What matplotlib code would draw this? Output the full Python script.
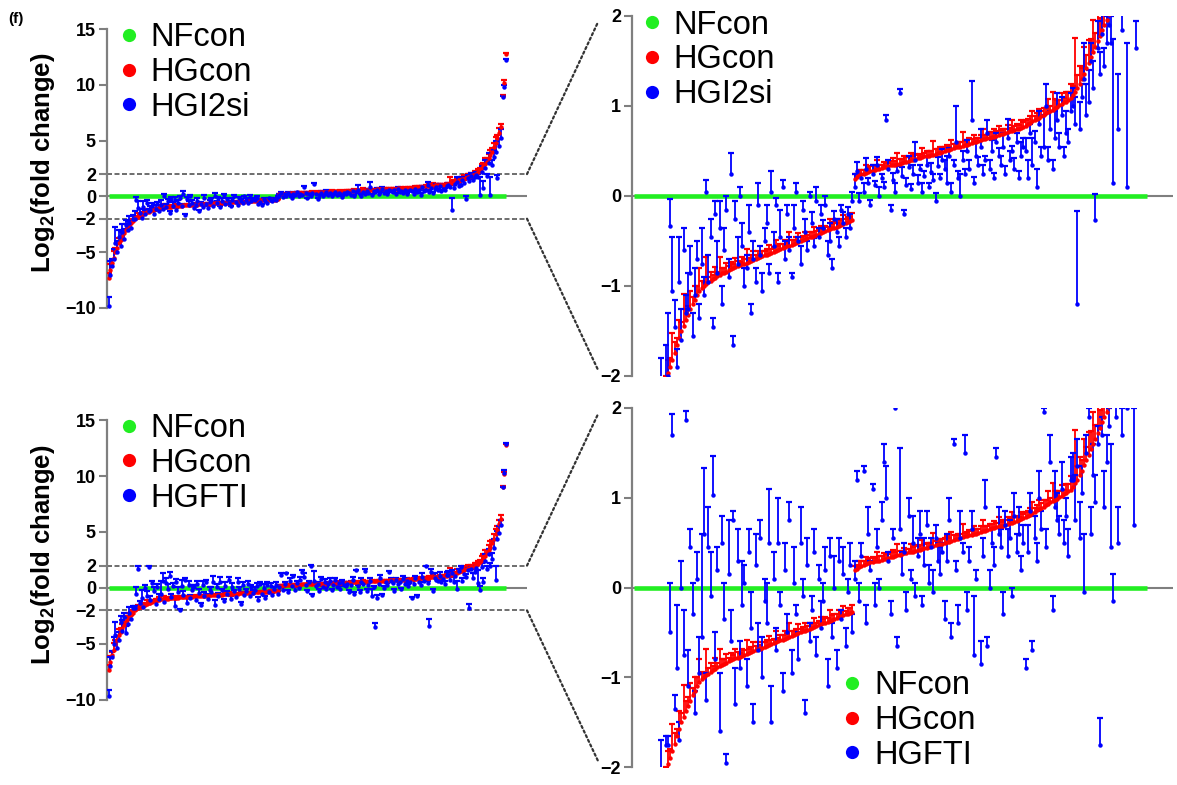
import numpy as np
import matplotlib.pyplot as plt
from matplotlib.lines import Line2D
from matplotlib.patches import ConnectionPatch
from matplotlib import transforms

plt.rcParams['font.family'] = ['Liberation Sans', 'DejaVu Sans']
plt.rcParams['mathtext.fontset'] = 'custom'
plt.rcParams['mathtext.rm'] = 'Liberation Sans:bold'
plt.rcParams['mathtext.default'] = 'rm'

# genes sorted by HGcon log2 fold change
hgcon = [-7.3, -6.6, -6.0, -5.5, -5.0, -4.6, -4.2, -3.9, -3.6, -3.3, -3.0, -2.8, -2.6, -2.4, -2.2,
         -1.97, -1.9, -1.82, -1.74, -1.66, -1.58, -1.5, -1.44, -1.38, -1.32, -1.26, -1.2, -1.15, -1.1, -1.05,
         -1.02, -1.0, -0.98, -0.96, -0.94, -0.92, -0.91, -0.89, -0.88, -0.86, -0.85, -0.84, -0.82, -0.81,
         -0.8, -0.79, -0.78, -0.77, -0.76, -0.75, -0.74, -0.73, -0.72, -0.71, -0.7, -0.69, -0.68, -0.67, -0.66,
         -0.65, -0.64, -0.63, -0.62, -0.61, -0.6, -0.59, -0.58, -0.57, -0.56, -0.55, -0.54, -0.53, -0.52,
         -0.51, -0.5, -0.49, -0.48, -0.47, -0.46, -0.45, -0.44, -0.43, -0.42, -0.41, -0.4, -0.39, -0.38,
         -0.37, -0.36, -0.35, -0.34, -0.33, -0.32, -0.31, -0.3, -0.29, -0.28, -0.27,
         0.19, 0.21, 0.23, 0.24, 0.25, 0.26, 0.27, 0.28, 0.28, 0.29, 0.3, 0.3, 0.31, 0.32, 0.32, 0.33,
         0.34, 0.34, 0.35, 0.36, 0.36, 0.37, 0.38, 0.38, 0.39, 0.4, 0.4, 0.41, 0.42, 0.42, 0.43, 0.44,
         0.44, 0.45, 0.46, 0.46, 0.47, 0.48, 0.48, 0.49,
         0.5, 0.51, 0.51, 0.52, 0.53, 0.54, 0.54, 0.55, 0.56, 0.57, 0.57, 0.58, 0.59, 0.6, 0.6, 0.61,
         0.62, 0.63, 0.63, 0.64, 0.65, 0.66, 0.66, 0.67, 0.68, 0.69, 0.69, 0.7, 0.71, 0.72, 0.72, 0.73,
         0.74, 0.75, 0.76, 0.77,
         0.78, 0.8, 0.81, 0.83, 0.84, 0.86, 0.87, 0.89, 0.9, 0.92, 0.93, 0.95, 0.96, 0.98, 0.99, 1.01,
         1.02, 1.04, 1.05, 1.07, 1.09,
         1.12, 1.16, 1.2, 1.25, 1.3, 1.36, 1.42, 1.48, 1.54, 1.6, 1.66, 1.72, 1.78, 1.84, 1.9, 1.96, 2.02,
         2.15, 2.3, 2.5, 2.7, 2.9, 3.1, 3.4, 3.7, 4.0, 4.4, 4.8, 5.2, 5.7, 6.2,
         9.0, 10.2, 12.8]
hgcon_err = [0.4, 0.5, 0.3, 0.6, 0.4, 0.3, 0.5, 0.3, 0.4, 0.3, 0.5, 0.3, 0.4, 0.3, 0.2,
             0.15, 0.1, 0.3, 0.12, 0.08, 0.2, 0.1, 0.35, 0.12, 0.1, 0.2, 0.08, 0.15, 0.1, 0.25,
             0.08, 0.05, 0.3, 0.06, 0.1, 0.04, 0.12, 0.05, 0.2, 0.06, 0.05, 0.1, 0.04, 0.08, 0.05,
             0.1, 0.06, 0.04, 0.08, 0.05, 0.15, 0.04, 0.06, 0.1, 0.05, 0.08, 0.04, 0.06, 0.05,
             0.06, 0.1, 0.04, 0.05, 0.12, 0.04, 0.06, 0.05, 0.08, 0.04, 0.15, 0.05, 0.04, 0.06, 0.1,
             0.04, 0.05, 0.08, 0.04, 0.06, 0.05, 0.1, 0.04, 0.05, 0.08, 0.05, 0.06, 0.04, 0.12, 0.05,
             0.06, 0.04, 0.08, 0.05, 0.1, 0.04, 0.06, 0.05, 0.08,
             0.05, 0.04, 0.06, 0.05, 0.04, 0.08, 0.04, 0.05, 0.06, 0.04, 0.1, 0.05, 0.04, 0.06, 0.05,
             0.04, 0.05, 0.08, 0.04, 0.12, 0.05, 0.04, 0.06, 0.05, 0.04, 0.08, 0.05, 0.06, 0.04, 0.05,
             0.1, 0.04, 0.06, 0.05, 0.04, 0.15, 0.05, 0.04, 0.06, 0.05,
             0.05, 0.06, 0.04, 0.1, 0.05, 0.04, 0.06, 0.05, 0.15, 0.04, 0.05, 0.06, 0.04, 0.08, 0.05,
             0.04, 0.06, 0.12, 0.05, 0.04, 0.06, 0.05, 0.08, 0.05, 0.1, 0.04, 0.06, 0.05, 0.08, 0.04,
             0.12, 0.05, 0.06, 0.04, 0.08, 0.05,
             0.06, 0.05, 0.08, 0.12, 0.05, 0.06, 0.1, 0.05, 0.08, 0.06, 0.15, 0.05, 0.2, 0.1, 0.08,
             0.06, 0.12, 0.05, 0.1, 0.08, 0.15,
             0.1, 0.6, 0.15, 0.2, 0.12, 0.3, 0.15, 0.25, 0.2, 0.35, 0.15, 0.3, 0.2, 0.25, 0.15, 0.3, 0.2,
             0.3, 0.2, 0.4, 0.3, 0.5, 0.3, 0.4, 0.5, 0.3, 0.4, 0.5, 0.3, 0.4, 0.3,
             0.1, 0.2, 0.05]

hgi2si = [-9.8, -7.0, -6.2, -5.6, -4.2, -5.0, -3.6, -4.4, -3.2, -3.8, -2.6, -3.0, -2.4, -2.8, -2.05,
          -2.0, -0.33, -1.05, -1.45, -1.9, -0.95, -1.6, -0.6, -1.3, -1.25, -0.85, -1.55, -1.1, -0.7, -1.35,
          -0.75, -1.1, 0.05, -0.95, -0.45, -1.45, -0.2, -0.85, -0.35, -1.2, -0.6, -0.15, -0.9, 0.25,
          -1.65, -0.25, -0.75, 0.0, -0.55, -1.0, -0.8, -0.4, -1.3, -0.7, -0.95, -0.1, -0.65, -1.05, -0.5,
          -0.3, -0.85, 0.05, -0.55, -0.1, -0.95, -0.45, 0.1, -0.7, -0.2, -0.6, -0.9, -0.35, 0.05, -0.5,
          -0.75, -0.15, -0.4, -0.6, 0.0, -0.3, -0.55, -0.05, -0.45, -0.2, -0.35, -0.1, -0.65, -0.5, -0.8,
          -0.25, -0.4, -0.55, -0.15, -0.3, -0.45, -0.2, -0.35, -0.05,
          0.1, 0.28, -0.05, 0.2, 0.05, 0.3, 0.15, -0.1, 0.25, 0.12, 0.35, 0.0, 0.2, 0.1, 0.85,
          0.3, -0.15, 0.18, 0.05, 0.28, 1.15, 0.22, -0.2, 0.12, 0.32, 0.08, 0.25, 0.4, 0.15, 0.3,
          0.05, 0.22, 0.35, 0.1, 0.27, 0.18, -0.05, 0.33, 0.2, 0.4,
          0.3, 0.15, 0.45, 0.05, 0.35, 0.6, 0.2, 0.0, 0.4, 0.25, 0.5, 0.3, 0.85, 0.15, 0.45,
          0.35, 0.55, 0.25, 0.4, 0.7, 0.3, 0.5, 0.2, 0.6, 0.45, 0.35, 0.55, 0.25, 0.65, 0.4,
          0.5, 0.3, 0.6, 0.2, 0.45, 0.55,
          0.5, 0.2, 0.7, 0.35, 0.6, 0.1, 0.8, 0.45, 0.55, 1.0, 0.4, 0.75, 0.3, 0.65, 0.85,
          0.55, 0.9, 0.45, 0.7, 0.6, 0.95,
          1.0, 0.8, -1.2, 0.75, 1.1, 1.3, 0.9, 1.05, 1.5, 1.2, -0.27, 1.65, 1.35, 1.8, 1.45, 1.7, 1.9,
          1.7, 0.15, 2.2, 0.75, 2.5, 1.85, 3.0, 0.1, 2.8, 3.5, 4.0, 1.65, 4.5, 5.2,
          8.9, 9.8, 12.2]
hgi2si_err = [0.8, 1.2, 0.6, 0.9, 1.5, 1.0, 0.6, 1.3, 0.7, 0.9, 0.5, 0.8, 0.6, 0.5, 0.4,
              0.7, 0.3, 0.6, 0.3, 0.2, 0.5, 0.35, 0.25, 0.2, 0.4, 0.3, 0.25, 0.3, 0.2, 0.15,
              0.4, 0.2, 0.13, 0.3, 0.2, 0.1, 0.15, 0.35, 0.3, 0.2, 0.25, 0.15, 0.2, 0.23, 0.1,
              0.2, 0.3, 0.1, 0.25, 0.2, 0.15, 0.3, 0.1, 0.2, 0.15, 0.25, 0.1, 0.2, 0.15,
              0.2, 0.1, 0.23, 0.15, 0.08, 0.1, 0.3, 0.08, 0.2, 0.1, 0.15, 0.05, 0.25, 0.1, 0.05,
              0.2, 0.1, 0.15, 0.1, 0.05, 0.12, 0.08, 0.15, 0.1, 0.1, 0.08, 0.1, 0.15, 0.2, 0.1,
              0.08, 0.15, 0.1, 0.05, 0.12, 0.1, 0.08, 0.15, 0.1,
              0.15, 0.1, 0.08, 0.05, 0.1, 0.12, 0.05, 0.06, 0.1, 0.05, 0.08, 0.1, 0.05, 0.06, 0.05,
              0.1, 0.05, 0.08, 0.1, 0.05, 0.04, 0.1, 0.05, 0.08, 0.12, 0.05, 0.1, 0.2, 0.08, 0.05,
              0.1, 0.06, 0.08, 0.05, 0.1, 0.06, 0.08, 0.1, 0.05, 0.12,
              0.1, 0.3, 0.08, 0.1, 0.05, 0.4, 0.08, 0.25, 0.1, 0.05, 0.12, 0.1, 0.43, 0.06, 0.15,
              0.08, 0.2, 0.1, 0.05, 0.15, 0.1, 0.12, 0.06, 0.1, 0.08, 0.1, 0.15, 0.08, 0.2, 0.1,
              0.06, 0.12, 0.1, 0.08, 0.15, 0.1,
              0.15, 0.2, 0.1, 0.3, 0.12, 0.2, 0.15, 0.1, 0.35, 0.25, 0.15, 0.2, 0.1, 0.3, 0.3,
              0.15, 0.2, 0.1, 0.25, 0.15, 0.2,
              0.2, 0.3, 1.03, 0.3, 0.15, 0.4, 0.35, 0.35, 0.2, 0.3, 0.29, 0.3, 0.25, 0.3, 0.2, 0.3, 0.25,
              0.3, 1.6, 0.5, 0.6, 0.8, 0.2, 0.9, 1.6, 0.5, 0.7, 1.0, 0.3, 0.6, 0.8,
              0.1, 0.2, 0.1]

hgfti = [-9.6, -7.0, -6.2, -5.0, -4.2, -5.4, -4.6, -3.0, -3.8, -2.6, -4.0, -3.2, -2.2, -2.8, -1.75,
         -1.75, -0.5, 1.7, -1.35, -0.9, -1.7, 0.0, -0.75, 1.87, -1.1, 0.45, -0.3, -1.4, 0.1, -0.95,
         -0.55, 0.6, -1.25, 0.45, -0.1, 1.03, -0.8, 0.2, -1.6, 0.5, -0.35, -1.95, 0.15, -0.6, 0.75,
         -1.3, 0.3, -0.9, -0.2, 0.05, -1.1, 0.4, -0.45, -1.5, 0.25, -0.7, 0.55, -1.0, -0.15,
         -0.4, 0.5, -1.5, 0.1, -0.7, 0.5, -0.2, -1.15, 0.2, -0.5, 0.75, -0.95, 0.05, -0.3, -0.8,
         0.5, -0.1, -1.4, 0.25, -0.6, -0.25, 0.4, -0.75, 0.1, -0.45, -0.15, 0.2, -1.1, 0.35, -0.55,
         0.0, -0.9, 0.3, -0.35, 0.15, -0.65, -0.05, 0.25, -0.5,
         0.1, 1.2, -0.15, 0.35, 1.3, -0.4, 0.6, 0.2, 1.1, -0.2, 0.45, 0.0, 0.75, 1.4, 1.0,
         0.3, -0.3, 0.55, 2.0, -0.65, 0.65, 0.15, 0.4, -0.25, 0.8, 0.1, 0.5, -0.1, 0.35, 0.6,
         -0.2, 0.25, 0.7, 0.05, 0.45, -0.05, 0.55, 0.3, 0.15, 0.4,
         -0.35, 0.3, 0.75, -0.55, 1.6, 0.2, -0.4, 0.55, 0.4, 1.5, -0.25, 0.3, 0.65, -0.75, 0.1,
         -3.5, -0.85, 0.35, 0.9, -0.65, 0.0, 0.5, 0.25, 1.45, 0.6, 0.45, -0.3, 0.7, 0.35, 0.55,
         -0.1, 0.8, 0.4, 0.6, 0.2, 0.5,
         -0.9, 0.4, 0.85, -0.7, 0.55, 0.3, 1.0, 0.65, 1.95, 0.45, -3.4, 1.4, -0.25, 0.9, 0.75,
         0.6, 1.1, 0.5, 0.8, 0.35, 1.2,
         1.2, 0.75, 1.35, 0.55, 1.05, -0.05, 1.5, 1.9, 0.6, 1.25, 0.95, 1.6, -1.75, 1.7, 0.9, 1.4, 1.8,
         0.45, -0.15, 1.9, 0.5, 2.4, 1.7, 3.0, 2.0, 2.6, 3.6, 0.7, 4.4, 4.9, 5.6,
         9.0, 10.3, 12.9]
hgfti_err = [0.5, 0.8, 0.6, 0.6, 1.2, 0.7, 0.7, 0.5, 0.9, 0.4, 0.6, 0.5, 0.5, 0.4, 0.1,
             0.1, 0.55, 0.23, 0.15, 0.7, 0.2, 0.3, 0.5, 0.1, 0.4, 0.2, 0.35, 0.25, 0.3, 0.4,
             1.15, 0.73, 0.3, 0.45, 0.5, 0.44, 0.3, 0.25, 0.65, 0.3, 0.4, 0.1, 0.6, 0.35, 0.1,
             0.4, 0.35, 0.3, 0.5, 0.2, 0.3, 0.25, 0.4, 0.2, 0.35, 0.3, 0.2, 0.45, 0.25,
             0.45, 0.6, 0.4, 0.3, 0.25, 0.5, 0.15, 0.2, 0.3, 0.2, 0.2, 0.25, 0.4, 0.1, 0.3,
             0.4, 0.2, 0.15, 0.3, 0.2, 0.15, 0.25, 0.2, 0.15, 0.3, 0.2, 0.25, 0.3, 0.2, 0.15,
             0.35, 0.2, 0.25, 0.1, 0.3, 0.2, 0.15, 0.25, 0.2,
             0.2, 0.1, 0.2, 0.15, 0.05, 0.2, 0.3, 0.1, 0.05, 0.25, 0.2, 0.1, 0.2, 0.2, 0.35,
             0.1, 0.15, 0.1, 0.02, 0.1, 0.9, 0.25, 0.1, 0.2, 0.2, 0.1, 0.3, 0.15, 0.2, 0.25,
             0.1, 0.3, 0.15, 0.2, 0.1, 0.25, 0.15, 0.2, 0.3, 0.1,
             0.2, 0.3, 0.25, 0.15, 0.05, 0.1, 0.2, 0.3, 0.1, 0.2, 0.2, 0.15, 0.2, 0.65, 0.1,
             0.4, 0.25, 0.2, 0.3, 0.1, 0.2, 0.15, 0.2, 0.1, 0.3, 0.2, 0.25, 0.15, 0.3, 0.2,
             0.1, 0.25, 0.2, 0.3, 0.15, 0.2,
             0.1, 0.3, 0.2, 0.1, 0.25, 0.2, 0.3, 0.2, 0.05, 0.2, 0.6, 0.3, 0.15, 0.4, 0.3,
             0.2, 0.3, 0.25, 0.2, 0.3, 0.25,
             0.3, 0.5, 0.3, 0.4, 0.3, 0.65, 0.2, 0.1, 0.3, 0.35, 0.3, 0.2, 0.3, 0.2, 0.4, 0.3, 0.2,
             1.15, 0.3, 0.3, 0.4, 0.6, 0.3, 0.5, 0.2, 0.5, 0.8, 1.3, 0.7, 0.6, 0.5,
             0.05, 0.2, 0.05]

nfcon = np.zeros(len(hgcon))  # normal-glucose control is the reference (log2 FC = 0)

full_ticks = [-10, -5, -2, 0, 2, 5, 10, 15]
zoom_ticks = [-2, -1, 0, 1, 2]
group_labels = ['NFcon', 'HGcon']

GREEN, RED, BLUE = '#22ee22', '#ff0000', '#0000ff'
GREY = '#7f7f7f'

W, H = 1177, 785
fig = plt.figure(figsize=(W / 100, H / 100), dpi=100)


def px_axes(left, top, right, bottom):
    return fig.add_axes([left / W, 1 - bottom / H, (right - left) / W, (bottom - top) / H])


def errbars(ax, x, y, e, c):
    y = np.asarray(y)
    top = y + np.asarray(e)
    ax.vlines(x, y, top, color=c, lw=1.3, zorder=3)
    ax.plot(x, top, ls='', marker='_', ms=4.8, mew=1.6, color=c, zorder=3)
    ax.plot(x, y, ls='', marker='o', ms=3.2, color=c, mec='none', zorder=4)


def panel(ax, blue, blue_err, blue_name, ticks, first_px, last_px, right_px, left_px):
    n = len(hgcon)
    x = np.arange(n)
    ppi = (last_px - first_px) / (n - 1)
    ax.set_xlim(-(first_px - left_px) / ppi, n - 1 + (right_px - last_px) / ppi)
    ax.set_ylim(ticks[0], ticks[-1])
    ax.axhline(0, color=GREY, lw=1.5, zorder=1)
    ax.plot(x, nfcon, color=GREEN, lw=3.3, solid_capstyle='butt', zorder=2)
    errbars(ax, x, hgcon, hgcon_err, RED)
    errbars(ax, x, blue, blue_err, BLUE)

    for s in ['top', 'right', 'bottom']:
        ax.spines[s].set_visible(False)
    ax.spines['left'].set_color(GREY)
    ax.spines['left'].set_linewidth(1.6)
    ax.set_xticks([])
    ax.set_yticks(ticks, [str(t).replace('-', '\u2212') for t in ticks],
                  fontsize=13, fontweight='bold')
    ax.tick_params(axis='y', length=6, width=1.5, color=GREY, pad=2)

    handles = [Line2D([], [], ls='', marker='o', ms=9.5, color=c, mec='none')
               for c in (GREEN, RED, BLUE)]
    return handles, group_labels + [blue_name]


rows = [(hgi2si, hgi2si_err, 'HGI2si', 29, 308, 16, 376),
        (hgfti, hgfti_err, 'HGFTI', 420, 700, 408, 767)]

for r, (blue, berr, name, lt, lb, rt, rb) in enumerate(rows):
    axL = px_axes(107, lt, 527, lb)
    axR = px_axes(632, rt, 1173, rb)
    h, lab = panel(axL, blue, berr, name, full_ticks, 108.5, 506, 527, 107)
    panel(axR, blue, berr, name, zoom_ticks, 634, 1147, 1173, 632)

    axL.set_ylabel(r'Log$_2$(fold change)', fontsize=18.5, fontweight='bold')
    axL.yaxis.set_label_coords(-0.12, 0.52)

    for yv in (2, -2):
        axL.axhline(yv, color='#555555', lw=1.2, ls=(0, (3, 1.5)), zorder=1)
        con = ConnectionPatch(
            xyA=(1.0, yv), coordsA=transforms.blended_transform_factory(axL.transAxes, axL.transData),
            xyB=(-0.063, yv * 0.965), coordsB=transforms.blended_transform_factory(axR.transAxes, axR.transData),
            color='#333333', lw=1.6, ls=(0, (1, 1.3)))
        fig.add_artist(con)

    leg_kw = dict(frameon=False, fontsize=23.5, handlelength=0.55, handletextpad=0.4,
                  labelspacing=0.12, borderaxespad=0, borderpad=0, loc='upper left')
    axL.legend(h, lab, bbox_to_anchor=(0.03, 1.025), **leg_kw)
    if r == 0:
        axR.legend(h, lab, bbox_to_anchor=(0.02, 1.018), **leg_kw)
    else:
        axR.legend(h, lab, bbox_to_anchor=(0.39, 0.27), **leg_kw)

fig.text(8 / W, 1 - 19 / H, '(f)', fontsize=11, fontweight='bold', va='center')

fig.savefig('out.png', dpi=100)
